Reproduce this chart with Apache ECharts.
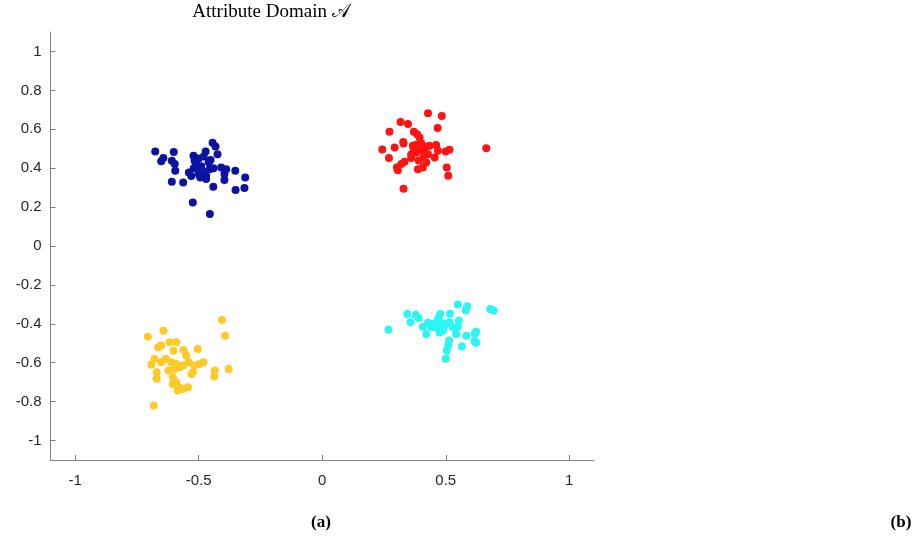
<!DOCTYPE html>
<html><head><meta charset="utf-8">
<script src="https://cdn.jsdelivr.net/npm/echarts@6/dist/echarts.min.js"></script>
<style>html,body{margin:0;padding:0;background:#fff}#c{width:915px;height:541px}</style>
</head><body><div id="c"></div>
<script>
const xTicks = [-1, -0.5, 0, 0.5, 1];
const yTicks = [-1, -0.8, -0.6, -0.4, -0.2, 0, 0.2, 0.4, 0.6, 0.8, 1];
const blue = [[-0.676,0.486],[-0.643,0.452],[-0.652,0.435],[-0.601,0.483],[-0.609,0.438],[-0.597,0.421],[-0.595,0.387],[-0.609,0.330],[-0.563,0.327],[-0.524,0.224],[-0.455,0.164],[-0.441,0.305],[-0.444,0.531],[-0.432,0.512],[-0.472,0.486],[-0.424,0.472],[-0.521,0.464],[-0.452,0.442],[-0.517,0.438],[-0.502,0.395],[-0.540,0.378],[-0.456,0.395],[-0.470,0.344],[-0.494,0.352],[-0.409,0.404],[-0.389,0.395],[-0.396,0.370],[-0.396,0.339],[-0.352,0.387],[-0.312,0.352],[-0.315,0.298],[-0.351,0.288],[-0.51,0.42],[-0.49,0.41],[-0.50,0.37],[-0.48,0.38],[-0.52,0.40],[-0.47,0.36],[-0.53,0.36],[-0.46,0.43],[-0.44,0.40],[-0.50,0.45],[-0.48,0.46]];
const red = [[0.428,0.683],[0.484,0.668],[0.317,0.638],[0.347,0.627],[0.467,0.606],[0.272,0.587],[0.371,0.587],[0.384,0.575],[0.394,0.558],[0.328,0.534],[0.329,0.527],[0.293,0.506],[0.243,0.496],[0.367,0.515],[0.39,0.50],[0.41,0.49],[0.38,0.48],[0.42,0.51],[0.428,0.472],[0.434,0.515],[0.461,0.519],[0.468,0.489],[0.499,0.486],[0.515,0.495],[0.455,0.455],[0.270,0.452],[0.360,0.452],[0.333,0.433],[0.320,0.421],[0.302,0.404],[0.306,0.390],[0.387,0.395],[0.407,0.404],[0.421,0.429],[0.504,0.404],[0.510,0.361],[0.329,0.294],[0.664,0.503],[0.38,0.52],[0.40,0.53],[0.37,0.50],[0.41,0.46],[0.39,0.44],[0.36,0.47]];
const cyan = [[0.549,-0.301],[0.587,-0.310],[0.581,-0.332],[0.680,-0.324],[0.694,-0.332],[0.344,-0.349],[0.378,-0.353],[0.390,-0.370],[0.357,-0.392],[0.268,-0.431],[0.478,-0.349],[0.517,-0.348],[0.428,-0.395],[0.407,-0.415],[0.468,-0.384],[0.482,-0.401],[0.461,-0.418],[0.488,-0.435],[0.475,-0.444],[0.441,-0.418],[0.421,-0.452],[0.515,-0.392],[0.529,-0.418],[0.553,-0.384],[0.549,-0.415],[0.542,-0.452],[0.583,-0.461],[0.623,-0.439],[0.617,-0.452],[0.617,-0.490],[0.623,-0.497],[0.513,-0.486],[0.510,-0.512],[0.504,-0.538],[0.565,-0.517],[0.500,-0.580],[0.45,-0.40],[0.49,-0.42],[0.47,-0.37],[0.50,-0.40]];
const yellow = [[-0.406,-0.380],[-0.393,-0.461],[-0.706,-0.466],[-0.643,-0.435],[-0.664,-0.521],[-0.652,-0.512],[-0.618,-0.495],[-0.591,-0.495],[-0.602,-0.538],[-0.562,-0.534],[-0.504,-0.529],[-0.551,-0.563],[-0.679,-0.580],[-0.692,-0.610],[-0.652,-0.598],[-0.634,-0.580],[-0.611,-0.598],[-0.591,-0.606],[-0.578,-0.623],[-0.598,-0.632],[-0.564,-0.615],[-0.540,-0.598],[-0.517,-0.615],[-0.481,-0.598],[-0.497,-0.606],[-0.524,-0.649],[-0.530,-0.658],[-0.622,-0.640],[-0.670,-0.649],[-0.670,-0.683],[-0.605,-0.675],[-0.591,-0.701],[-0.605,-0.709],[-0.578,-0.729],[-0.564,-0.735],[-0.544,-0.726],[-0.585,-0.743],[-0.435,-0.640],[-0.437,-0.671],[-0.379,-0.632],[-0.682,-0.820]];

const fmt = v => String(Math.round(v * 10) / 10);
const axisColor = '#808080';
const labelStyle = { color: '#262626', fontFamily: 'Liberation Sans', fontSize: 15 };
const chart = echarts.init(document.getElementById('c'));
const mk = (data, color) => ({ type: 'scatter', data, symbolSize: 8, itemStyle: { color, opacity: 1 }, animation: false });
const txt = (s, x, y, font) => ({ type: 'text', x, y, style: { text: s, font, fill: '#000', textAlign: 'center', textVerticalAlign: 'middle' } });
chart.setOption({
  animation: false,
  grid: { left: 50.5, right: 321, top: 32, bottom: 81 },
  graphic: [
    txt('Attribute Domain 𝒜', 271, 12, '19px "Liberation Serif"'),
    txt('(a)', 321, 523, 'bold 17px "Liberation Serif"'),
    txt('(b)', 901, 523, 'bold 17px "Liberation Serif"')
  ],
  xAxis: {
    type: 'value', min: -1.1, max: 1.1,
    splitLine: { show: false },
    axisLine: { onZero: false, lineStyle: { color: axisColor, width: 1 } },
    axisTick: { inside: true, length: 5, customValues: xTicks, lineStyle: { color: axisColor } },
    axisLabel: { customValues: xTicks, formatter: fmt, margin: 13, ...labelStyle }
  },
  yAxis: {
    type: 'value', min: -1.1, max: 1.1,
    splitLine: { show: false },
    axisLine: { show: true, onZero: false, lineStyle: { color: axisColor, width: 1 } },
    axisTick: { show: true, inside: true, length: 5, customValues: yTicks, lineStyle: { color: axisColor } },
    axisLabel: { customValues: yTicks, formatter: fmt, margin: 9, ...labelStyle }
  },
  series: [mk(blue, '#0a14a0'), mk(red, '#ff1414'), mk(cyan, '#2cf5f5'), mk(yellow, '#ffc928')]
});
</script></body></html>
